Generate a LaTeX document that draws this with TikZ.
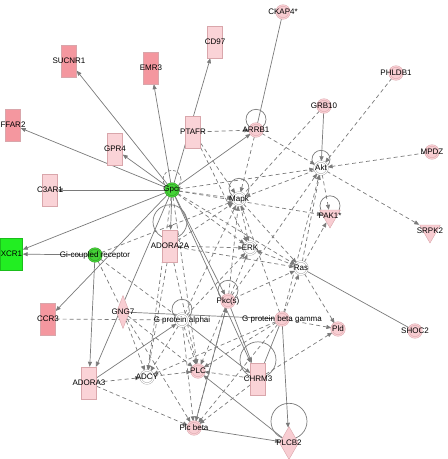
\documentclass[tikz,border=0pt]{standalone}
\usepackage{fontspec}
\setmainfont{Liberation Sans}
\usetikzlibrary{shapes.geometric,arrows.meta,backgrounds}

\definecolor{edgegray}{HTML}{7A7A7A}
\definecolor{rdark}{HTML}{F4979F}
\definecolor{rlight}{HTML}{FAD3D7}
\definecolor{mpink}{HTML}{F8CDD2}
\definecolor{gbright}{HTML}{22EE22}
\definecolor{gmid}{HTML}{44D236}
\definecolor{bordpink}{HTML}{D9A6AB}

\begin{document}
\begin{tikzpicture}[x=1pt, y=-1pt,
        rec/.style={rectangle, draw=bordpink, line width=0.4pt, fill=#1, minimum width=15pt, minimum height=32pt, inner sep=0pt},
        mol/.style={circle, draw=bordpink, line width=0.4pt, double=#1, double distance=1.2pt, fill=#1, minimum size=13pt, inner sep=0pt},
        grp/.style={circle, draw=edgegray!70, line width=0.4pt, double=white, double distance=1.2pt, fill=white, minimum size=13pt, inner sep=0pt},
        kin/.style={regular polygon, regular polygon sides=3, shape border rotate=180, draw=bordpink, line width=0.4pt, fill=mpink, minimum size=24pt, inner sep=0pt},
        enz/.style={diamond, draw=bordpink, line width=0.4pt, fill=mpink, minimum width=#1, minimum height=33pt, inner sep=0pt},
        every label/.style={font=\fontsize{8}{9}\selectfont, inner sep=0pt, text=black},
        arrow/.style={-{Triangle[length=5pt,width=4pt]}, draw=edgegray, line width=0.7pt},
        darrow/.style={arrow, dash pattern=on 4pt off 3pt},
        line/.style={draw=edgegray, line width=0.7pt},
        dline/.style={line, dash pattern=on 4pt off 3pt},
        loopline/.style={draw=edgegray, line width=0.7pt},
      ]
      \useasboundingbox (0,0) rectangle (448,459);
      % receptors and molecules
      \node [rec=rdark, label=center:SUCNR1] (sucnr) at (69,61) {};
      \node [rec=rdark, label=center:EMR3] (emr) at (151,68) {};
      \node [rec=rlight, label=center:CD97] (cd97) at (215,42) {};
      \node [mol=mpink, label=center:CKAP4*] (ckap) at (283,12) {};
      \node [rec=rlight, label=center:PTAFR] (ptafr) at (193,132) {};
      \node [mol=mpink, label=center:ARRB1] (arrb) at (256,130) {};
      \node [mol=mpink, label=center:PHLDB1] (phldb) at (396,73) {};
      \node [mol=mpink, label=center:GRB10] (grb) at (324,106) {};
      \node [mol=mpink, label=center:MPDZ] (mpdz) at (432,152) {};
      \node [grp, label=center:Akt] (akt) at (321,168) {};
      \node [kin, label=center:PAK1*] (pak) at (330,216) {};
      \node [kin, label=center:SRPK2] (srpk) at (430,231) {};
      \node [rec=rdark, label=center:FFAR2] (ffar) at (13,125) {};
      \node [rec=rlight, label=center:GPR4] (gpr) at (115,149) {};
      \node [rec=rlight, label=center:C3AR1] (c3ar) at (50,190) {};
      \node [rec=gbright, draw=gbright!80!black, minimum width=22pt, label=center:XCR1] (xcr) at (11.5,254) {};
      \node [mol=gmid, draw=gmid!70!black, label=center:Gi-coupled receptor] (gicr) at (95,255) {};
      \node [mol=gmid, draw=gmid!70!black, label=center:Gpcr] (gpcr) at (172,190) {};
      \node [grp, label=center:Mapk] (mapk) at (239,199) {};
      \node [rec=rlight, label=center:ADORA2A] (adora2a) at (170,246) {};
      \node [grp, label=center:ERK] (erk) at (250,248) {};
      \node [grp, label=center:Ras] (ras) at (301,268) {};
      \node [mol=mpink, label=center:SHOC2] (shoc) at (415,331) {};
      \node [mol=mpink, label=center:Pld] (pld) at (338,329) {};
      \node [mol=mpink, label=center:Pkc(s)] (pkc) at (228,301) {};
      \node [grp, label=center:G protein alphai] (gpa) at (182,320) {};
      \node [mol=mpink, label=center:G protein beta gamma] (gpbg) at (282,319) {};
      \node [enz=13pt, label=center:GNG7] (gng) at (123,312) {};
      \node [rec=rdark, label=center:CCR3] (ccr) at (48,319) {};
      \node [rec=rlight, label=center:ADORA3] (adora3) at (89,383) {};
      \node [grp, label=center:ADCY] (adcy) at (147,377) {};
      \node [mol=mpink, label=center:PLC] (plc) at (198,371) {};
      \node [rec=rlight, label=center:CHRM3] (chrm) at (258,379) {};
      \node [mol=mpink, label=center:Plc beta] (plcb) at (194,428) {};
      \node [enz=19pt, label=center:PLCB2] (plcb2) at (289,443) {};
      \begin{scope}[on background layer]
        % self loops
        \draw [loopline] ([yshift=4pt]arrb.north) circle[radius=10pt];
        \draw [loopline, dash pattern=on 3pt off 2pt] ([yshift=4pt]gpcr.north) circle[radius=9pt];
        \draw [loopline] ([yshift=4pt]mapk.north) circle[radius=10pt];
        \draw [loopline] ([yshift=2pt]akt.north) circle[radius=9pt];
        \draw [loopline] ([yshift=4pt]pak.north) circle[radius=10pt];
        \draw [loopline] ([yshift=8pt]adora2a.north) circle[radius=17pt];
        \draw [loopline] ([yshift=4pt]pkc.north) circle[radius=10pt];
        \draw [loopline] ([yshift=4pt]gpa.north) circle[radius=10pt];
        \draw [loopline] ([yshift=3pt]chrm.north) circle[radius=18pt];
        \draw [loopline] ([yshift=5pt]plcb2.north) circle[radius=18pt];
        % solid connectors
        \draw [arrow] (gpcr) -- (sucnr);
        \draw [arrow] (gpcr) -- (emr);
        \draw [arrow] (gpcr) -- (cd97);
        \draw [arrow] (gpcr) -- (ffar);
        \draw [arrow] (gpcr) -- (gpr);
        \draw [arrow] (gpcr) -- (c3ar);
        \draw [arrow] (gpcr) -- (xcr);
        \draw [arrow] (gpcr) -- (ccr);
        \draw [arrow] (gpcr) -- (adora3);
        \draw [arrow] (gpcr) -- (adora2a);
        \draw [arrow] (gpcr) -- (arrb);
        \draw [arrow] (gpcr) -- (pkc);
        \draw [arrow] (gpcr) -- (chrm);
        \draw [arrow] (gicr) -- (xcr);
        \draw [arrow] (gicr) -- (adora3);
        \draw [arrow] (grb) -- (akt);
        \draw [line] (ckap) -- (arrb);
        \draw [line] (ras) -- (shoc);
        \draw [line] (gng) -- (gpbg);
        \draw [arrow] (adora3) -- (gpa);
        \draw [arrow] (gpa) -- (chrm);
        \draw [line] (gpbg) -- (chrm);
        \draw [arrow] (gpbg) -- (plcb2);
        \draw [arrow] (plcb) -- (plcb2);
        \draw [arrow] (plcb2) -- (plc);
        \draw [arrow] (plcb) -- (pkc);
        \draw [arrow] (pkc) -- (chrm);
        % dashed connectors
        \draw [darrow] (ptafr) -- (arrb);
        \draw [darrow] (ptafr) -- (mapk);
        \draw [darrow] (ptafr) -- (erk);
        \draw [darrow] (arrb) -- (mapk);
        \draw [darrow] (arrb) -- (akt);
        \draw [dline] (grb) -- (mapk);
        \draw [darrow] (phldb) -- (akt);
        \draw [darrow] (mpdz) -- (akt);
        \draw [darrow] (akt) -- (srpk);
        \draw [darrow] (akt) -- (pak);
        \draw [darrow] (akt) -- (mapk);
        \draw [darrow] (gpcr) -- (mapk);
        \draw [darrow] (gpcr) -- (akt);
        \draw [darrow] (gpcr) -- (erk);
        \draw [darrow] (gpcr) -- (ras);
        \draw [darrow] (gpcr) -- (pak);
        \draw [darrow] (gpcr) -- (adcy);
        \draw [darrow] (gpcr) -- (plc);
        \draw [darrow] (mapk) -- (erk);
        \draw [darrow] (mapk) -- (ras);
        \draw [darrow] (ras) -- (akt);
        \draw [darrow] (ras) -- (pak);
        \draw [darrow] (ras) -- (erk);
        \draw [darrow] (ras) -- (pld);
        \draw [darrow] (pkc) -- (erk);
        \draw [darrow] (pkc) -- (ras);
        \draw [darrow] (pkc) -- (mapk);
        \draw [darrow] (pkc) -- (plc);
        \draw [darrow] (pkc) -- (plcb);
        \draw [darrow] (pkc) -- (akt);
        \draw [darrow] (gpbg) -- (ras);
        \draw [darrow] (gpbg) -- (pld);
        \draw [darrow] (gpbg) -- (plc);
        \draw [darrow] (gpbg) -- (plcb);
        \draw [darrow] (gpbg) -- (adcy);
        \draw [darrow] (gpbg) -- (mapk);
        \draw [darrow] (gpbg) -- (akt);
        \draw [darrow] (gpa) -- (erk);
        \draw [darrow] (gpa) -- (adcy);
        \draw [darrow] (gpa) -- (plc);
        \draw [darrow] (gpa) -- (plcb);
        \draw [darrow] (gpa) -- (mapk);
        \draw [darrow] (gng) -- (adcy);
        \draw [darrow] (gng) -- (plc);
        \draw [darrow] (gng) -- (plcb);
        \draw [dline] (gicr) -- (gng);
        \draw [dline] (gicr) -- (gpa);
        \draw [darrow] (gicr) -- (mapk);
        \draw [darrow] (adora2a) -- (adcy);
        \draw [darrow] (adora2a) -- (plc);
        \draw [darrow] (adora2a) -- (erk);
        \draw [darrow] (adora2a) -- (mapk);
        \draw [darrow] (adora2a) -- (ras);
        \draw [darrow] (adora3) -- (adcy);
        \draw [darrow] (adora3) -- (plcb);
        \draw [dline] (ccr) -- (gpa);
        \draw [darrow] (adcy) -- (plc);
        \draw [darrow] (chrm) -- (plc);
        \draw [darrow] (chrm) -- (plcb);
        \draw [darrow] (chrm) -- (pld);
      \end{scope}
    \end{tikzpicture}
\end{document}
